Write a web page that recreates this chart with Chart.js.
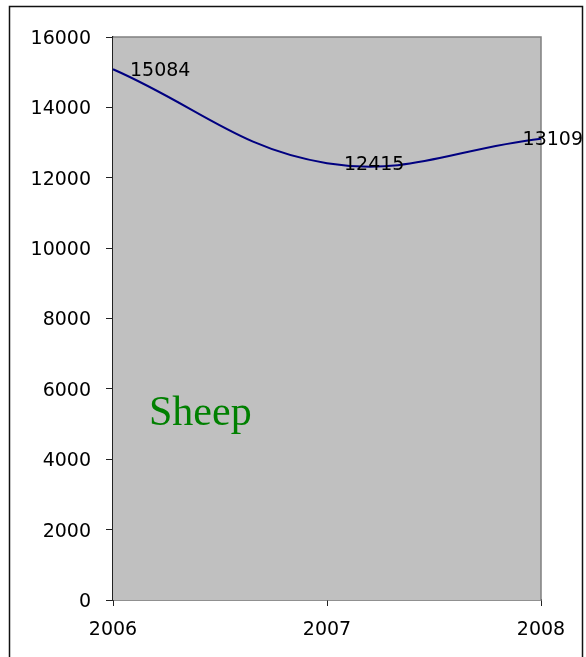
<!DOCTYPE html>
<html>
<head>
<meta charset="utf-8">
<script src="https://cdn.jsdelivr.net/npm/chart.js@4"></script>
<style>
  html, body { margin: 0; padding: 0; background: #fff; }
  #chart { display: block; }
</style>
</head>
<body>
<canvas id="chart" width="586" height="657"></canvas>
<script>
// chart data
const years = ['2006', '2007', '2008'];
const sheepCounts = [15084, 12415, 13109];
const seriesTitle = 'Sheep';

Chart.defaults.font.family = '"DejaVu Sans", sans-serif';
Chart.defaults.font.size = 19;
Chart.defaults.color = '#000';

// grey plot area, frame round the whole picture, point labels and the title
const decorPlugin = {
    id: 'decor',
    beforeDatasetsDraw(chart) {
        const { ctx, chartArea: a } = chart;
        ctx.save();
        ctx.fillStyle = '#c0c0c0';
        ctx.fillRect(a.left, a.top, a.right - a.left, a.bottom - a.top);
        ctx.strokeStyle = '#808080';
        ctx.lineWidth = 1.5;
        ctx.beginPath();
        ctx.moveTo(a.left, a.top);
        ctx.lineTo(a.right, a.top);
        ctx.lineTo(a.right, a.bottom);
        ctx.stroke();
        ctx.restore();
    },
    afterDraw(chart) {
        const { ctx, chartArea: a, width } = chart;
        ctx.save();
        // outer frame
        ctx.strokeStyle = '#111';
        ctx.lineWidth = 1.5;
        ctx.strokeRect(9.5, 6.5, 573, 700);

        // value labels
        ctx.font = '19px "DejaVu Sans", sans-serif';
        ctx.fillStyle = '#000';
        ctx.textBaseline = 'middle';
        ctx.textAlign = 'left';
        const meta = chart.getDatasetMeta(0);
        meta.data.forEach((pt, i) => {
            const txt = String(sheepCounts[i]);
            const w = ctx.measureText(txt).width;
            let x = pt.x + 17;
            if (x + w > width - 3) x = width - 3 - w;
            ctx.fillText(txt, x, pt.y + 1.5);
        });

        // series title inside the plot
        ctx.font = '42px "Liberation Serif", "Times New Roman", serif';
        ctx.fillStyle = '#008000';
        ctx.textBaseline = 'alphabetic';
        ctx.fillText(seriesTitle, a.left + 36, 425);
        ctx.restore();
    }
};

const ctx = document.getElementById('chart').getContext('2d');
new Chart(ctx, {
    type: 'line',
    data: {
        labels: years,
        datasets: [{
            label: seriesTitle,
            data: sheepCounts,
            borderColor: '#000080',
            borderWidth: 2,
            pointRadius: 0,
            tension: 0.4,
            fill: false
        }]
    },
    options: {
        responsive: false,
        animation: false,
        layout: { padding: { top: 37, right: 45, left: 0, bottom: 0 } },
        plugins: {
            legend: { display: false },
            tooltip: { enabled: false }
        },
        scales: {
            x: {
                offset: false,
                afterFit: s => { s.height = 57; },
                grid: { drawOnChartArea: false, drawTicks: true, tickLength: 6, tickColor: '#222' },
                border: { display: true, color: '#222', width: 1.5 },
                ticks: { padding: 13, maxRotation: 0, autoSkip: false }
            },
            y: {
                min: 0,
                max: 16000,
                afterFit: s => { s.width = 113; },
                grid: { drawOnChartArea: false, drawTicks: true, tickLength: 7, tickColor: '#222' },
                border: { display: true, color: '#222', width: 1.5 },
                ticks: { stepSize: 2000, padding: 15, labelOffset: 2, callback: v => String(v) }
            }
        }
    },
    plugins: [decorPlugin]
});
</script>
</body>
</html>
